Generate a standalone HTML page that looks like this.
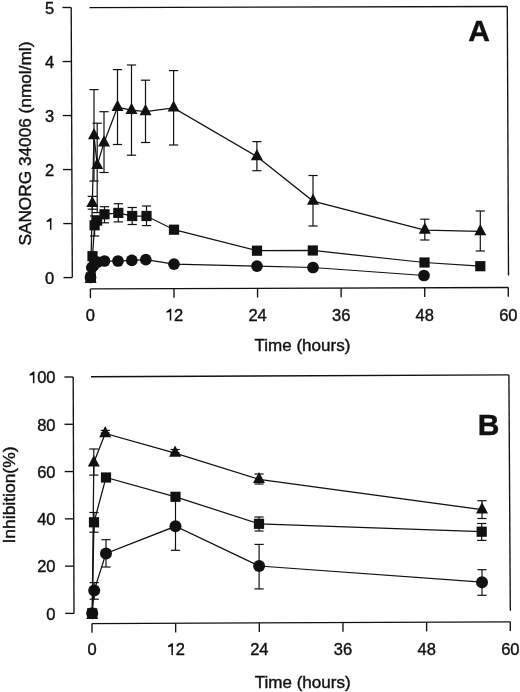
<!DOCTYPE html>
<html><head><meta charset="utf-8"><title>Figure</title>
<style>
html,body{margin:0;padding:0;background:#fff;}
body{width:520px;height:692px;overflow:hidden;}
svg{display:block;will-change:transform;}
text{font-family:"Liberation Sans", sans-serif;fill:#111;stroke:none;}
</style></head>
<body>
<svg width="520" height="692" viewBox="0 0 520 692">
<rect width="520" height="692" fill="#fff"/>
<g stroke="#111" fill="#111" stroke-linecap="butt">
<line x1="71.20" y1="7.50" x2="72.30" y2="277.60" stroke-width="1.35"/>
<line x1="63.50" y1="277.60" x2="72.30" y2="277.60" stroke-width="1.35"/>
<text x="45.03" y="283.80" font-size="16.5" text-anchor="start" font-weight="normal" style="stroke:#111;stroke-width:0.4px">0</text>
<line x1="63.28" y1="223.58" x2="72.08" y2="223.58" stroke-width="1.35"/>
<polygon points="51.48,218.08 51.48,229.78 49.96,229.78 49.96,221.38 46.59,222.12 46.59,220.72 49.13,218.91 50.45,218.08" stroke="none"/>
<line x1="63.06" y1="169.56" x2="71.86" y2="169.56" stroke-width="1.35"/>
<text x="45.03" y="175.76" font-size="16.5" text-anchor="start" font-weight="normal" style="stroke:#111;stroke-width:0.4px">2</text>
<line x1="62.84" y1="115.54" x2="71.64" y2="115.54" stroke-width="1.35"/>
<text x="45.03" y="121.74" font-size="16.5" text-anchor="start" font-weight="normal" style="stroke:#111;stroke-width:0.4px">3</text>
<line x1="62.62" y1="61.52" x2="71.42" y2="61.52" stroke-width="1.35"/>
<text x="45.03" y="67.72" font-size="16.5" text-anchor="start" font-weight="normal" style="stroke:#111;stroke-width:0.4px">4</text>
<line x1="62.40" y1="7.50" x2="71.20" y2="7.50" stroke-width="1.35"/>
<text x="45.03" y="13.70" font-size="16.5" text-anchor="start" font-weight="normal" style="stroke:#111;stroke-width:0.4px">5</text>
<line x1="89.50" y1="7.60" x2="507.30" y2="6.50" stroke-width="1.35"/>
<line x1="507.30" y1="6.50" x2="508.50" y2="275.60" stroke-width="1.35"/>
<line x1="90.40" y1="288.90" x2="508.30" y2="287.50" stroke-width="1.35"/>
<line x1="90.40" y1="288.90" x2="90.40" y2="298.10" stroke-width="1.35"/>
<text x="85.81" y="320.50" font-size="16.5" text-anchor="start" font-weight="normal" style="stroke:#111;stroke-width:0.4px">0</text>
<line x1="173.98" y1="288.62" x2="173.98" y2="297.82" stroke-width="1.35"/>
<polygon points="171.26,308.80 171.26,320.50 169.74,320.50 169.74,312.10 166.37,312.84 166.37,311.44 168.91,309.63 170.23,308.80" stroke="none"/>
<text x="173.98" y="320.50" font-size="16.5" text-anchor="start" font-weight="normal" style="stroke:#111;stroke-width:0.4px">2</text>
<line x1="257.56" y1="288.34" x2="257.56" y2="297.54" stroke-width="1.35"/>
<text x="248.39" y="320.50" font-size="16.5" text-anchor="start" font-weight="normal" style="stroke:#111;stroke-width:0.4px">2</text>
<text x="257.56" y="320.50" font-size="16.5" text-anchor="start" font-weight="normal" style="stroke:#111;stroke-width:0.4px">4</text>
<line x1="341.14" y1="288.06" x2="341.14" y2="297.26" stroke-width="1.35"/>
<text x="331.97" y="320.50" font-size="16.5" text-anchor="start" font-weight="normal" style="stroke:#111;stroke-width:0.4px">3</text>
<text x="341.14" y="320.50" font-size="16.5" text-anchor="start" font-weight="normal" style="stroke:#111;stroke-width:0.4px">6</text>
<line x1="424.72" y1="287.78" x2="424.72" y2="296.98" stroke-width="1.35"/>
<text x="415.55" y="320.50" font-size="16.5" text-anchor="start" font-weight="normal" style="stroke:#111;stroke-width:0.4px">4</text>
<text x="424.72" y="320.50" font-size="16.5" text-anchor="start" font-weight="normal" style="stroke:#111;stroke-width:0.4px">8</text>
<line x1="508.30" y1="287.50" x2="508.30" y2="296.70" stroke-width="1.35"/>
<text x="499.13" y="320.50" font-size="16.5" text-anchor="start" font-weight="normal" style="stroke:#111;stroke-width:0.4px">6</text>
<text x="508.30" y="320.50" font-size="16.5" text-anchor="start" font-weight="normal" style="stroke:#111;stroke-width:0.4px">0</text>
<text x="302.40" y="351.00" font-size="16.5" text-anchor="middle" font-weight="normal" textLength="96" lengthAdjust="spacingAndGlyphs" style="stroke:#111;stroke-width:0.4px">Time (hours)</text>
<text x="31.00" y="143.60" font-size="16.5" text-anchor="middle" font-weight="normal" transform="rotate(-90 31.00 143.60)" textLength="204" lengthAdjust="spacingAndGlyphs" style="stroke:#111;stroke-width:0.4px">SANORG 34006 (nmol/ml)</text>
<text x="479.00" y="40.50" font-size="30" text-anchor="middle" font-weight="bold" style="stroke:#111;stroke-width:0.4px">A</text>
<polyline points="90.50,277.50 91.80,267.60 94.00,265.00 97.50,262.00 104.50,261.00 118.00,261.00 131.80,260.40 145.80,259.70 174.00,264.20 257.00,266.20 313.00,267.50 424.00,275.50" fill="none" stroke-width="1.25"/>
<circle cx="90.50" cy="277.50" r="5.85" stroke="none"/>
<circle cx="91.80" cy="267.60" r="5.85" stroke="none"/>
<circle cx="94.00" cy="265.00" r="5.85" stroke="none"/>
<circle cx="97.50" cy="262.00" r="5.85" stroke="none"/>
<circle cx="104.50" cy="261.00" r="5.85" stroke="none"/>
<circle cx="118.00" cy="261.00" r="5.85" stroke="none"/>
<circle cx="131.80" cy="260.40" r="5.85" stroke="none"/>
<circle cx="145.80" cy="259.70" r="5.85" stroke="none"/>
<circle cx="174.00" cy="264.20" r="5.85" stroke="none"/>
<circle cx="257.00" cy="266.20" r="5.85" stroke="none"/>
<circle cx="313.00" cy="267.50" r="5.85" stroke="none"/>
<circle cx="424.00" cy="275.50" r="5.85" stroke="none"/>
<polyline points="90.80,277.30 92.50,256.20 94.60,225.30 97.10,220.60 104.50,214.30 118.30,212.90 132.20,216.00 146.50,216.00 174.00,229.70 257.00,250.70 312.80,250.50 424.50,262.50 480.30,266.20" fill="none" stroke-width="1.25"/>
<line x1="94.60" y1="216.00" x2="94.60" y2="236.00" stroke-width="1.2"/>
<line x1="90.00" y1="216.00" x2="99.20" y2="216.00" stroke-width="1.2"/>
<line x1="90.00" y1="236.00" x2="99.20" y2="236.00" stroke-width="1.2"/>
<line x1="104.50" y1="206.70" x2="104.50" y2="222.80" stroke-width="1.2"/>
<line x1="99.90" y1="206.70" x2="109.10" y2="206.70" stroke-width="1.2"/>
<line x1="99.90" y1="222.80" x2="109.10" y2="222.80" stroke-width="1.2"/>
<line x1="118.30" y1="203.70" x2="118.30" y2="221.90" stroke-width="1.2"/>
<line x1="113.70" y1="203.70" x2="122.90" y2="203.70" stroke-width="1.2"/>
<line x1="113.70" y1="221.90" x2="122.90" y2="221.90" stroke-width="1.2"/>
<line x1="132.20" y1="207.50" x2="132.20" y2="224.50" stroke-width="1.2"/>
<line x1="127.60" y1="207.50" x2="136.80" y2="207.50" stroke-width="1.2"/>
<line x1="127.60" y1="224.50" x2="136.80" y2="224.50" stroke-width="1.2"/>
<line x1="146.50" y1="206.00" x2="146.50" y2="225.60" stroke-width="1.2"/>
<line x1="141.90" y1="206.00" x2="151.10" y2="206.00" stroke-width="1.2"/>
<line x1="141.90" y1="225.60" x2="151.10" y2="225.60" stroke-width="1.2"/>
<rect x="85.70" y="272.20" width="10.2" height="10.2" stroke="none"/>
<rect x="87.40" y="251.10" width="10.2" height="10.2" stroke="none"/>
<rect x="89.50" y="220.20" width="10.2" height="10.2" stroke="none"/>
<rect x="92.00" y="215.50" width="10.2" height="10.2" stroke="none"/>
<rect x="99.40" y="209.20" width="10.2" height="10.2" stroke="none"/>
<rect x="113.20" y="207.80" width="10.2" height="10.2" stroke="none"/>
<rect x="127.10" y="210.90" width="10.2" height="10.2" stroke="none"/>
<rect x="141.40" y="210.90" width="10.2" height="10.2" stroke="none"/>
<rect x="168.90" y="224.60" width="10.2" height="10.2" stroke="none"/>
<rect x="251.90" y="245.60" width="10.2" height="10.2" stroke="none"/>
<rect x="307.70" y="245.40" width="10.2" height="10.2" stroke="none"/>
<rect x="419.40" y="257.40" width="10.2" height="10.2" stroke="none"/>
<rect x="475.20" y="261.10" width="10.2" height="10.2" stroke="none"/>
<polyline points="90.60,279.27 92.30,203.37 94.00,135.47 97.20,165.17 104.00,142.67 117.50,107.27 131.50,110.17 145.50,111.57 173.60,107.87 256.90,156.47 313.00,201.07 424.80,230.07 480.30,231.47" fill="none" stroke-width="1.25"/>
<line x1="92.30" y1="196.40" x2="92.30" y2="209.20" stroke-width="1.2"/>
<line x1="87.70" y1="196.40" x2="96.90" y2="196.40" stroke-width="1.2"/>
<line x1="87.70" y1="209.20" x2="96.90" y2="209.20" stroke-width="1.2"/>
<line x1="94.00" y1="89.60" x2="94.00" y2="181.00" stroke-width="1.2"/>
<line x1="89.40" y1="89.60" x2="98.60" y2="89.60" stroke-width="1.2"/>
<line x1="89.40" y1="181.00" x2="98.60" y2="181.00" stroke-width="1.2"/>
<line x1="97.20" y1="123.20" x2="97.20" y2="212.60" stroke-width="1.2"/>
<line x1="92.60" y1="123.20" x2="101.80" y2="123.20" stroke-width="1.2"/>
<line x1="92.60" y1="212.60" x2="101.80" y2="212.60" stroke-width="1.2"/>
<line x1="104.00" y1="111.70" x2="104.00" y2="172.50" stroke-width="1.2"/>
<line x1="99.40" y1="111.70" x2="108.60" y2="111.70" stroke-width="1.2"/>
<line x1="99.40" y1="172.50" x2="108.60" y2="172.50" stroke-width="1.2"/>
<line x1="117.50" y1="69.60" x2="117.50" y2="144.50" stroke-width="1.2"/>
<line x1="112.90" y1="69.60" x2="122.10" y2="69.60" stroke-width="1.2"/>
<line x1="112.90" y1="144.50" x2="122.10" y2="144.50" stroke-width="1.2"/>
<line x1="131.50" y1="65.00" x2="131.50" y2="155.20" stroke-width="1.2"/>
<line x1="126.90" y1="65.00" x2="136.10" y2="65.00" stroke-width="1.2"/>
<line x1="126.90" y1="155.20" x2="136.10" y2="155.20" stroke-width="1.2"/>
<line x1="145.50" y1="80.20" x2="145.50" y2="142.50" stroke-width="1.2"/>
<line x1="140.90" y1="80.20" x2="150.10" y2="80.20" stroke-width="1.2"/>
<line x1="140.90" y1="142.50" x2="150.10" y2="142.50" stroke-width="1.2"/>
<line x1="173.60" y1="70.60" x2="173.60" y2="145.00" stroke-width="1.2"/>
<line x1="169.00" y1="70.60" x2="178.20" y2="70.60" stroke-width="1.2"/>
<line x1="169.00" y1="145.00" x2="178.20" y2="145.00" stroke-width="1.2"/>
<line x1="256.90" y1="141.60" x2="256.90" y2="170.70" stroke-width="1.2"/>
<line x1="252.30" y1="141.60" x2="261.50" y2="141.60" stroke-width="1.2"/>
<line x1="252.30" y1="170.70" x2="261.50" y2="170.70" stroke-width="1.2"/>
<line x1="313.00" y1="175.50" x2="313.00" y2="226.00" stroke-width="1.2"/>
<line x1="308.40" y1="175.50" x2="317.60" y2="175.50" stroke-width="1.2"/>
<line x1="308.40" y1="226.00" x2="317.60" y2="226.00" stroke-width="1.2"/>
<line x1="424.80" y1="219.20" x2="424.80" y2="240.00" stroke-width="1.2"/>
<line x1="420.20" y1="219.20" x2="429.40" y2="219.20" stroke-width="1.2"/>
<line x1="420.20" y1="240.00" x2="429.40" y2="240.00" stroke-width="1.2"/>
<line x1="480.30" y1="211.00" x2="480.30" y2="251.00" stroke-width="1.2"/>
<line x1="475.70" y1="211.00" x2="484.90" y2="211.00" stroke-width="1.2"/>
<line x1="475.70" y1="251.00" x2="484.90" y2="251.00" stroke-width="1.2"/>
<polygon points="90.60,271.80 96.60,283.00 84.60,283.00" stroke="none"/>
<polygon points="92.30,195.90 98.30,207.10 86.30,207.10" stroke="none"/>
<polygon points="94.00,128.00 100.00,139.20 88.00,139.20" stroke="none"/>
<polygon points="97.20,157.70 103.20,168.90 91.20,168.90" stroke="none"/>
<polygon points="104.00,135.20 110.00,146.40 98.00,146.40" stroke="none"/>
<polygon points="117.50,99.80 123.50,111.00 111.50,111.00" stroke="none"/>
<polygon points="131.50,102.70 137.50,113.90 125.50,113.90" stroke="none"/>
<polygon points="145.50,104.10 151.50,115.30 139.50,115.30" stroke="none"/>
<polygon points="173.60,100.40 179.60,111.60 167.60,111.60" stroke="none"/>
<polygon points="256.90,149.00 262.90,160.20 250.90,160.20" stroke="none"/>
<polygon points="313.00,193.60 319.00,204.80 307.00,204.80" stroke="none"/>
<polygon points="424.80,222.60 430.80,233.80 418.80,233.80" stroke="none"/>
<polygon points="480.30,224.00 486.30,235.20 474.30,235.20" stroke="none"/>
<line x1="73.20" y1="377.00" x2="74.00" y2="613.40" stroke-width="1.35"/>
<line x1="65.20" y1="613.40" x2="74.00" y2="613.40" stroke-width="1.35"/>
<text x="46.33" y="619.70" font-size="16.5" text-anchor="start" font-weight="normal" style="stroke:#111;stroke-width:0.4px">0</text>
<line x1="65.04" y1="566.12" x2="73.84" y2="566.12" stroke-width="1.35"/>
<text x="37.15" y="572.42" font-size="16.5" text-anchor="start" font-weight="normal" style="stroke:#111;stroke-width:0.4px">2</text>
<text x="46.33" y="572.42" font-size="16.5" text-anchor="start" font-weight="normal" style="stroke:#111;stroke-width:0.4px">0</text>
<line x1="64.88" y1="518.84" x2="73.68" y2="518.84" stroke-width="1.35"/>
<text x="37.15" y="525.14" font-size="16.5" text-anchor="start" font-weight="normal" style="stroke:#111;stroke-width:0.4px">4</text>
<text x="46.33" y="525.14" font-size="16.5" text-anchor="start" font-weight="normal" style="stroke:#111;stroke-width:0.4px">0</text>
<line x1="64.72" y1="471.56" x2="73.52" y2="471.56" stroke-width="1.35"/>
<text x="37.15" y="477.86" font-size="16.5" text-anchor="start" font-weight="normal" style="stroke:#111;stroke-width:0.4px">6</text>
<text x="46.33" y="477.86" font-size="16.5" text-anchor="start" font-weight="normal" style="stroke:#111;stroke-width:0.4px">0</text>
<line x1="64.56" y1="424.28" x2="73.36" y2="424.28" stroke-width="1.35"/>
<text x="37.15" y="430.58" font-size="16.5" text-anchor="start" font-weight="normal" style="stroke:#111;stroke-width:0.4px">8</text>
<text x="46.33" y="430.58" font-size="16.5" text-anchor="start" font-weight="normal" style="stroke:#111;stroke-width:0.4px">0</text>
<line x1="64.40" y1="377.00" x2="73.20" y2="377.00" stroke-width="1.35"/>
<polygon points="34.43,371.60 34.43,383.30 32.91,383.30 32.91,374.90 29.55,375.64 29.55,374.24 32.09,372.43 33.41,371.60" stroke="none"/>
<text x="37.15" y="383.30" font-size="16.5" text-anchor="start" font-weight="normal" style="stroke:#111;stroke-width:0.4px">0</text>
<text x="46.33" y="383.30" font-size="16.5" text-anchor="start" font-weight="normal" style="stroke:#111;stroke-width:0.4px">0</text>
<line x1="91.00" y1="376.70" x2="508.90" y2="374.90" stroke-width="1.35"/>
<line x1="508.90" y1="374.90" x2="510.30" y2="610.80" stroke-width="1.35"/>
<line x1="92.00" y1="623.60" x2="510.30" y2="621.80" stroke-width="1.35"/>
<line x1="92.00" y1="623.60" x2="92.00" y2="632.80" stroke-width="1.35"/>
<text x="87.41" y="654.90" font-size="16.5" text-anchor="start" font-weight="normal" style="stroke:#111;stroke-width:0.4px">0</text>
<line x1="175.66" y1="623.24" x2="175.66" y2="632.44" stroke-width="1.35"/>
<polygon points="172.94,643.20 172.94,654.90 171.42,654.90 171.42,646.50 168.05,647.24 168.05,645.84 170.59,644.03 171.91,643.20" stroke="none"/>
<text x="175.66" y="654.90" font-size="16.5" text-anchor="start" font-weight="normal" style="stroke:#111;stroke-width:0.4px">2</text>
<line x1="259.32" y1="622.88" x2="259.32" y2="632.08" stroke-width="1.35"/>
<text x="250.15" y="654.90" font-size="16.5" text-anchor="start" font-weight="normal" style="stroke:#111;stroke-width:0.4px">2</text>
<text x="259.32" y="654.90" font-size="16.5" text-anchor="start" font-weight="normal" style="stroke:#111;stroke-width:0.4px">4</text>
<line x1="342.98" y1="622.52" x2="342.98" y2="631.72" stroke-width="1.35"/>
<text x="333.81" y="654.90" font-size="16.5" text-anchor="start" font-weight="normal" style="stroke:#111;stroke-width:0.4px">3</text>
<text x="342.98" y="654.90" font-size="16.5" text-anchor="start" font-weight="normal" style="stroke:#111;stroke-width:0.4px">6</text>
<line x1="426.64" y1="622.16" x2="426.64" y2="631.36" stroke-width="1.35"/>
<text x="417.47" y="654.90" font-size="16.5" text-anchor="start" font-weight="normal" style="stroke:#111;stroke-width:0.4px">4</text>
<text x="426.64" y="654.90" font-size="16.5" text-anchor="start" font-weight="normal" style="stroke:#111;stroke-width:0.4px">8</text>
<line x1="510.30" y1="621.80" x2="510.30" y2="631.00" stroke-width="1.35"/>
<text x="501.13" y="654.90" font-size="16.5" text-anchor="start" font-weight="normal" style="stroke:#111;stroke-width:0.4px">6</text>
<text x="510.30" y="654.90" font-size="16.5" text-anchor="start" font-weight="normal" style="stroke:#111;stroke-width:0.4px">0</text>
<text x="302.70" y="687.90" font-size="16.5" text-anchor="middle" font-weight="normal" textLength="96" lengthAdjust="spacingAndGlyphs" style="stroke:#111;stroke-width:0.4px">Time (hours)</text>
<text x="15.10" y="495.00" font-size="16.5" text-anchor="middle" font-weight="normal" transform="rotate(-90 15.10 495.00)" textLength="97" lengthAdjust="spacingAndGlyphs" style="stroke:#111;stroke-width:0.4px">Inhibition(%)</text>
<text x="488.60" y="435.00" font-size="30" text-anchor="middle" font-weight="bold" style="stroke:#111;stroke-width:0.4px">B</text>
<polyline points="92.20,613.30 94.20,590.40 106.00,553.40 175.50,526.30 259.10,566.00 482.00,582.20" fill="none" stroke-width="1.25"/>
<line x1="94.20" y1="582.60" x2="94.20" y2="599.20" stroke-width="1.2"/>
<line x1="89.60" y1="582.60" x2="98.80" y2="582.60" stroke-width="1.2"/>
<line x1="89.60" y1="599.20" x2="98.80" y2="599.20" stroke-width="1.2"/>
<line x1="106.00" y1="539.70" x2="106.00" y2="567.00" stroke-width="1.2"/>
<line x1="101.40" y1="539.70" x2="110.60" y2="539.70" stroke-width="1.2"/>
<line x1="101.40" y1="567.00" x2="110.60" y2="567.00" stroke-width="1.2"/>
<line x1="175.50" y1="497.00" x2="175.50" y2="550.30" stroke-width="1.2"/>
<line x1="170.90" y1="497.00" x2="180.10" y2="497.00" stroke-width="1.2"/>
<line x1="170.90" y1="550.30" x2="180.10" y2="550.30" stroke-width="1.2"/>
<line x1="259.10" y1="544.40" x2="259.10" y2="588.90" stroke-width="1.2"/>
<line x1="254.50" y1="544.40" x2="263.70" y2="544.40" stroke-width="1.2"/>
<line x1="254.50" y1="588.90" x2="263.70" y2="588.90" stroke-width="1.2"/>
<line x1="482.00" y1="569.70" x2="482.00" y2="595.30" stroke-width="1.2"/>
<line x1="477.40" y1="569.70" x2="486.60" y2="569.70" stroke-width="1.2"/>
<line x1="477.40" y1="595.30" x2="486.60" y2="595.30" stroke-width="1.2"/>
<circle cx="92.20" cy="613.30" r="6.0" stroke="none"/>
<circle cx="94.20" cy="590.40" r="6.0" stroke="none"/>
<circle cx="106.00" cy="553.40" r="6.0" stroke="none"/>
<circle cx="175.50" cy="526.30" r="6.0" stroke="none"/>
<circle cx="259.10" cy="566.00" r="6.0" stroke="none"/>
<circle cx="482.00" cy="582.20" r="6.0" stroke="none"/>
<polyline points="92.20,613.30 94.00,522.30 106.00,477.50 175.50,496.80 259.00,523.80 481.70,531.70" fill="none" stroke-width="1.25"/>
<line x1="94.00" y1="512.50" x2="94.00" y2="532.20" stroke-width="1.2"/>
<line x1="89.40" y1="512.50" x2="98.60" y2="512.50" stroke-width="1.2"/>
<line x1="89.40" y1="532.20" x2="98.60" y2="532.20" stroke-width="1.2"/>
<line x1="259.00" y1="517.00" x2="259.00" y2="531.00" stroke-width="1.2"/>
<line x1="254.40" y1="517.00" x2="263.60" y2="517.00" stroke-width="1.2"/>
<line x1="254.40" y1="531.00" x2="263.60" y2="531.00" stroke-width="1.2"/>
<line x1="481.70" y1="523.50" x2="481.70" y2="540.40" stroke-width="1.2"/>
<line x1="477.10" y1="523.50" x2="486.30" y2="523.50" stroke-width="1.2"/>
<line x1="477.10" y1="540.40" x2="486.30" y2="540.40" stroke-width="1.2"/>
<rect x="87.10" y="608.20" width="10.2" height="10.2" stroke="none"/>
<rect x="88.90" y="517.20" width="10.2" height="10.2" stroke="none"/>
<rect x="100.90" y="472.40" width="10.2" height="10.2" stroke="none"/>
<rect x="170.40" y="491.70" width="10.2" height="10.2" stroke="none"/>
<rect x="253.90" y="518.70" width="10.2" height="10.2" stroke="none"/>
<rect x="476.60" y="526.60" width="10.2" height="10.2" stroke="none"/>
<polyline points="92.20,615.17 93.80,462.67 105.20,433.47 175.10,453.07 259.00,479.37 482.00,509.67" fill="none" stroke-width="1.25"/>
<line x1="93.80" y1="449.00" x2="93.80" y2="475.10" stroke-width="1.2"/>
<line x1="89.20" y1="449.00" x2="98.40" y2="449.00" stroke-width="1.2"/>
<line x1="89.20" y1="475.10" x2="98.40" y2="475.10" stroke-width="1.2"/>
<line x1="105.20" y1="430.40" x2="105.20" y2="433.00" stroke-width="1.2"/>
<line x1="100.60" y1="430.40" x2="109.80" y2="430.40" stroke-width="1.2"/>
<line x1="100.60" y1="433.00" x2="109.80" y2="433.00" stroke-width="1.2"/>
<line x1="175.10" y1="449.50" x2="175.10" y2="453.00" stroke-width="1.2"/>
<line x1="170.50" y1="449.50" x2="179.70" y2="449.50" stroke-width="1.2"/>
<line x1="170.50" y1="453.00" x2="179.70" y2="453.00" stroke-width="1.2"/>
<line x1="259.00" y1="474.00" x2="259.00" y2="484.00" stroke-width="1.2"/>
<line x1="254.40" y1="474.00" x2="263.60" y2="474.00" stroke-width="1.2"/>
<line x1="254.40" y1="484.00" x2="263.60" y2="484.00" stroke-width="1.2"/>
<line x1="482.00" y1="500.70" x2="482.00" y2="518.50" stroke-width="1.2"/>
<line x1="477.40" y1="500.70" x2="486.60" y2="500.70" stroke-width="1.2"/>
<line x1="477.40" y1="518.50" x2="486.60" y2="518.50" stroke-width="1.2"/>
<polygon points="92.20,607.70 98.20,618.90 86.20,618.90" stroke="none"/>
<polygon points="93.80,455.20 99.80,466.40 87.80,466.40" stroke="none"/>
<polygon points="105.20,426.00 111.20,437.20 99.20,437.20" stroke="none"/>
<polygon points="175.10,445.60 181.10,456.80 169.10,456.80" stroke="none"/>
<polygon points="259.00,471.90 265.00,483.10 253.00,483.10" stroke="none"/>
<polygon points="482.00,502.20 488.00,513.40 476.00,513.40" stroke="none"/>
</g>
</svg>
</body></html>
